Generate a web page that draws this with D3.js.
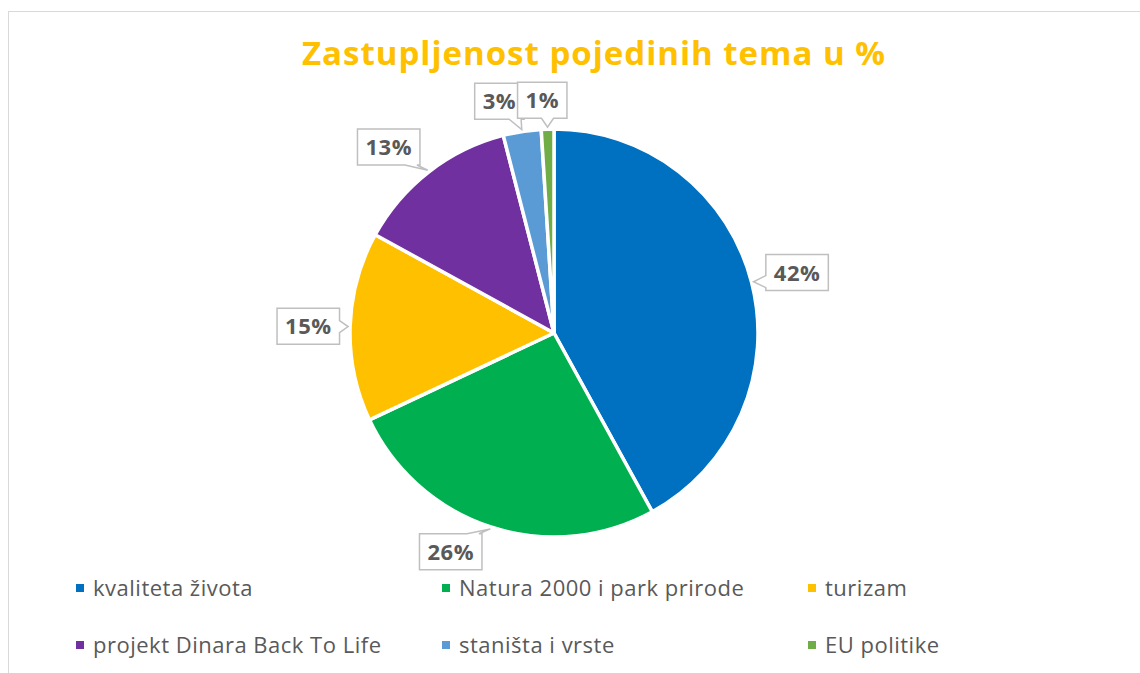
<!DOCTYPE html>
<html>
<head>
<meta charset="utf-8">
<script src="https://cdn.jsdelivr.net/npm/d3@7"></script>
<style>
  body { margin: 0; background: #fff; }
  text { font-family: "Open Sans", "Noto Sans", sans-serif; }
</style>
</head>
<body>
<svg></svg>
<script>
var screen = {width: 1140, height: 673};

// data
var categories = ["kvaliteta života", "Natura 2000 i park prirode", "turizam",
                  "projekt Dinara Back To Life", "staništa i vrste", "EU politike"];
var values = [42, 26, 15, 13, 3, 1];
var colors = ["#0070C0", "#00B050", "#FFC000", "#7030A0", "#5B9BD5", "#70AD47"];
var title = "Zastupljenost pojedinih tema u %";

// small label shifts (Excel best-fit placement)
var labelShift = [[4, 1], [-27, -16], [1, 1], [-14, 9], [-16, 12], [-4, 14]];

var center = {x: 554, y: 333};
var radius = 204;

var svg = d3.select("svg")
    .attr("width", screen.width)
    .attr("height", screen.height);

// chart area border
svg.append("rect")
    .attr("x", 8.5).attr("y", 11.5)
    .attr("width", 1200).attr("height", 700)
    .attr("fill", "#fff")
    .attr("stroke", "#d9d9d9");

svg.append("text")
    .attr("x", 594).attr("y", 65)
    .attr("text-anchor", "middle")
    .attr("font-size", 33)
    .attr("font-weight", "bold")
    .attr("letter-spacing", 1)
    .attr("fill", "#FFC000")
    .text(title);

var pie = d3.pie().sort(null).value(function(d) { return d; });
var arcs = pie(values);

var arc = d3.arc().innerRadius(0).outerRadius(radius);

var g = svg.append("g")
    .attr("transform", "translate(" + center.x + "," + center.y + ")");

g.selectAll("path.slice")
    .data(arcs)
    .enter()
    .append("path")
    .attr("class", "slice")
    .attr("d", arc)
    .attr("fill", function(d, i) { return colors[i]; })
    .attr("stroke", "#fff")
    .attr("stroke-width", 3.5)
    .attr("stroke-linejoin", "round");

var polar = function(a, r)
{
    return [r * Math.sin(a), -r * Math.cos(a)];
}

// callout box with tail toward anchor
var callout = function(x0, y0, x1, y1, ax, ay)
{
    var cx = (x0 + x1) / 2, cy = (y0 + y1) / 2;
    var nx = (ax - cx) / ((x1 - x0) / 2), ny = (ay - cy) / ((y1 - y0) / 2);
    var side;
    if (Math.abs(nx) > Math.abs(ny)) side = nx < 0 ? "left" : "right";
    else side = ny < 0 ? "top" : "bottom";
    var half = 6, m = 3;
    var clamp = function(v, lo, hi) { return Math.max(lo + half + m, Math.min(hi - half - m, v)); };
    var p = [];
    p.push([x0, y0]);
    if (side == "top") { var t = clamp(ax, x0, x1); p.push([t - half, y0], [ax, ay], [t + half, y0]); }
    p.push([x1, y0]);
    if (side == "right") { var t = clamp(ay, y0, y1); p.push([x1, t - half], [ax, ay], [x1, t + half]); }
    p.push([x1, y1]);
    if (side == "bottom") { var t = clamp(ax, x0, x1); p.push([t + half, y1], [ax, ay], [t - half, y1]); }
    p.push([x0, y1]);
    if (side == "left") { var t = clamp(ay, y0, y1); p.push([x0, t + half], [ax, ay], [x0, t - half]); }
    return "M" + p.map(function(q) { return q[0] + "," + q[1]; }).join("L") + "Z";
}

var labels = g.selectAll("g.lbl")
    .data(arcs)
    .enter()
    .append("g")
    .attr("class", "lbl");

labels.each(function(d, i)
{
    var mid = (d.startAngle + d.endAngle) / 2;
    var c = polar(mid, radius * 1.21);
    c[0] += labelShift[i][0];
    c[1] += labelShift[i][1];
    var a = polar(mid, radius + 2);
    var sel = d3.select(this);
    var txt = sel.append("text")
        .attr("x", c[0]).attr("y", c[1] + 8)
        .attr("text-anchor", "middle")
        .attr("font-size", 22)
        .attr("font-weight", "bold")
        .attr("letter-spacing", 0.5)
        .attr("fill", "#595959")
        .text(d.value + "%");
    var w = txt.node().getComputedTextLength() + 16;
    var h = 36;
    sel.insert("path", "text")
        .attr("d", callout(c[0] - w / 2, c[1] - h / 2, c[0] + w / 2, c[1] + h / 2, a[0], a[1]))
        .attr("fill", "#fff")
        .attr("stroke", "#bfbfbf")
        .attr("stroke-width", 1.5);
});

// legend
var legend = svg.append("g");
var item = legend.selectAll("g")
    .data(categories)
    .enter()
    .append("g")
    .attr("transform", function(d, i) {
        return "translate(" + (76 + (i % 3) * 366) + "," + (588 + Math.floor(i / 3) * 57) + ")";
    });

item.append("rect")
    .attr("x", 0).attr("y", -4)
    .attr("width", 8).attr("height", 8)
    .attr("fill", function(d, i) { return colors[i]; });

item.append("text")
    .attr("x", 17).attr("y", 7.5)
    .attr("font-size", 22)
    .attr("letter-spacing", 0.5)
    .attr("fill", "#595959")
    .text(function(d) { return d; });
</script>
</body>
</html>
